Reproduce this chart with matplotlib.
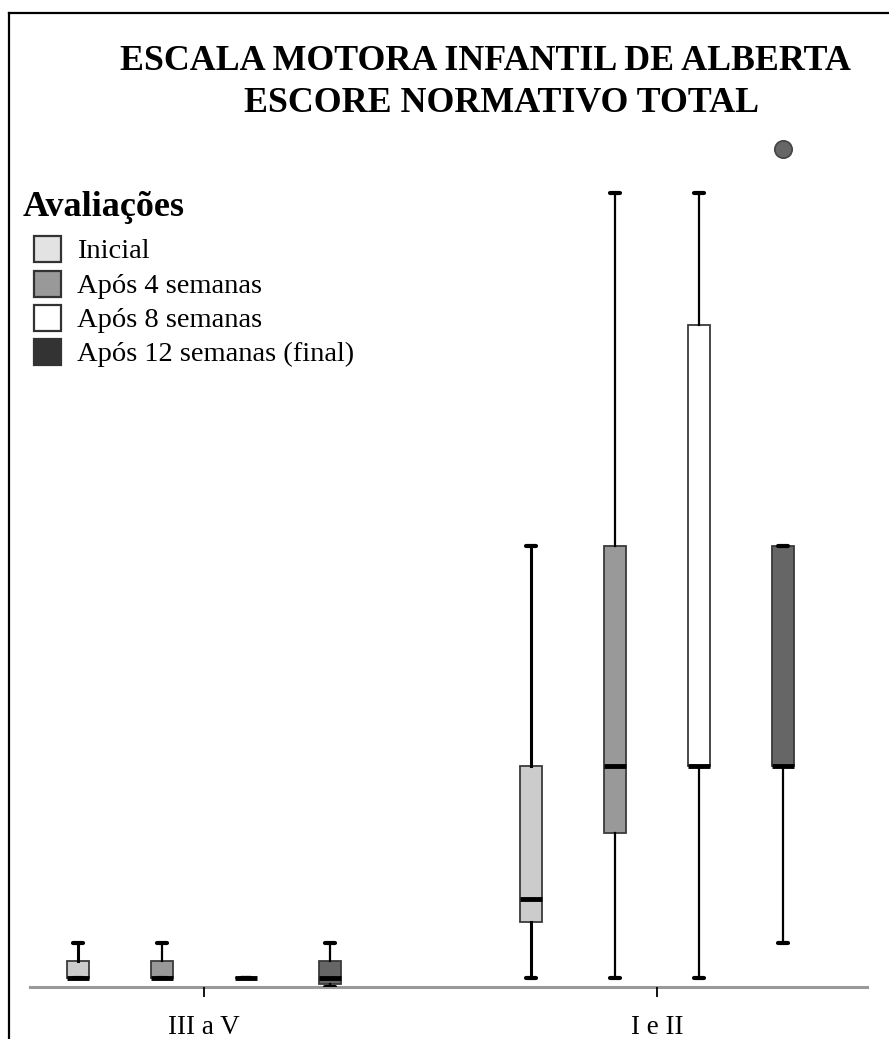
import matplotlib
matplotlib.use("Agg")
import matplotlib.pyplot as plt
from matplotlib.patches import Rectangle
from matplotlib.lines import Line2D

# ---------------- data ----------------
groups = ["III a V", "I e II"]
series = ["Inicial", "Após 4 semanas", "Após 8 semanas", "Após 12 semanas (final)"]

# per series: values for [III a V, I e II]
whislo = {
    "Inicial": [1, 1],
    "Após 4 semanas": [1, 1],
    "Após 8 semanas": [1, 1],
    "Após 12 semanas (final)": [0, 5],
}
q1 = {
    "Inicial": [1, 7.4],
    "Após 4 semanas": [1, 17.5],
    "Após 8 semanas": [1, 25],
    "Após 12 semanas (final)": [0.3, 25],
}
med = {
    "Inicial": [1, 10],
    "Após 4 semanas": [1, 25],
    "Após 8 semanas": [1, 25],
    "Após 12 semanas (final)": [1, 25],
}
q3 = {
    "Inicial": [3, 25],
    "Após 4 semanas": [3, 50],
    "Após 8 semanas": [1, 75],
    "Após 12 semanas (final)": [3, 50],
}
whishi = {
    "Inicial": [5, 50],
    "Após 4 semanas": [5, 90],
    "Após 8 semanas": [1, 90],
    "Após 12 semanas (final)": [5, 50],
}
fliers = {
    "Inicial": [[], []],
    "Após 4 semanas": [[], []],
    "Após 8 semanas": [[], []],
    "Após 12 semanas (final)": [[], [95]],
}

box_colors = ["#cccccc", "#999999", "#ffffff", "#666666"]
legend_colors = ["#e3e3e3", "#999999", "#ffffff", "#333333"]
whisker_lw = [2.2, 1.6, 1.6, 1.6]

SERIF = ["Liberation Serif", "DejaVu Serif"]

W, H = 889, 1039
fig = plt.figure(figsize=(W / 100, H / 100), dpi=100)

def fx(px):
    return px / W

def fy(py):
    return 1 - py / H

ax_left, ax_right, ax_top, ax_bot = 30, 867, 130, 987
ax = fig.add_axes([fx(ax_left), fy(ax_bot), (ax_right - ax_left) / W, (ax_bot - ax_top) / H])

group_pos = [0.0, 1.0]
step = 0.1848
offsets = [-1.5 * step, -0.5 * step, 0.5 * step, 1.5 * step]
box_w = 0.0486
cap_w = 0.022

for i, s in enumerate(series):
    stats = []
    for g in range(len(groups)):
        stats.append(dict(
            med=med[s][g], q1=q1[s][g], q3=q3[s][g],
            whislo=whislo[s][g], whishi=whishi[s][g],
            fliers=fliers[s][g], label=groups[g],
        ))
    pos = [gp + offsets[i] for gp in group_pos]
    ax.bxp(
        stats, positions=pos, widths=box_w, capwidths=cap_w,
        patch_artist=True, manage_ticks=False, zorder=3,
        boxprops=dict(facecolor=box_colors[i], edgecolor="#3a3a3a", linewidth=1.3),
        whiskerprops=dict(color="black", linewidth=whisker_lw[i]),
        capprops=dict(color="black", linewidth=3.0, solid_capstyle="round"),
        medianprops=dict(color="black", linewidth=3.5, solid_capstyle="butt"),
        flierprops=dict(marker="o", markersize=12.5, markerfacecolor="#666666",
                        markeredgecolor="#444444", markeredgewidth=1.2),
    )

ax.set_xlim((ax_left - 204) / 453, (ax_right - 204) / 453)
ax.set_ylim(0, (987.3 - ax_top) / 8.825)
ax.set_xticks(group_pos)
ax.set_xticklabels(groups, family=SERIF, fontsize=19.5)
ax.tick_params(axis="x", direction="out", length=7, width=1.3, color="black", pad=13)
ax.set_yticks([])
for side in ["left", "right", "top"]:
    ax.spines[side].set_visible(False)
ax.spines["bottom"].set_color("#999999")
ax.spines["bottom"].set_linewidth(2.2)
ax.spines["bottom"].set_zorder(1)
ax.patch.set_alpha(0)

# title
fig.text(fx(485), fy(70), "ESCALA MOTORA INFANTIL DE ALBERTA", ha="center", va="baseline",
         family=SERIF, fontweight="bold", fontsize=25.8)
fig.text(fx(501), fy(112), "ESCORE NORMATIVO TOTAL", ha="center", va="baseline",
         family=SERIF, fontweight="bold", fontsize=25.8)

# legend (manual)
fig.text(fx(23), fy(216), "Avaliações", ha="left", va="baseline",
         family=SERIF, fontweight="bold", fontsize=26)
row_centers = [249, 284, 318, 352]
for lab, col, yc in zip(series, legend_colors, row_centers):
    fig.patches.append(Rectangle((fx(34), fy(yc + 13)), 27 / W, 26 / H, transform=fig.transFigure,
                                 facecolor=col, edgecolor="#333333", linewidth=1.6))
    fig.text(fx(77), fy(yc + 9), lab, ha="left", va="baseline", family=SERIF, fontsize=20.5)

# frame border (left and top)
fig.add_artist(Line2D([fx(9), fx(9)], [fy(13), 0], transform=fig.transFigure, color="black", linewidth=1.6))
fig.add_artist(Line2D([fx(9), 1], [fy(13), fy(13)], transform=fig.transFigure, color="black", linewidth=1.6))

fig.savefig("out.png", dpi=100, facecolor="white")
